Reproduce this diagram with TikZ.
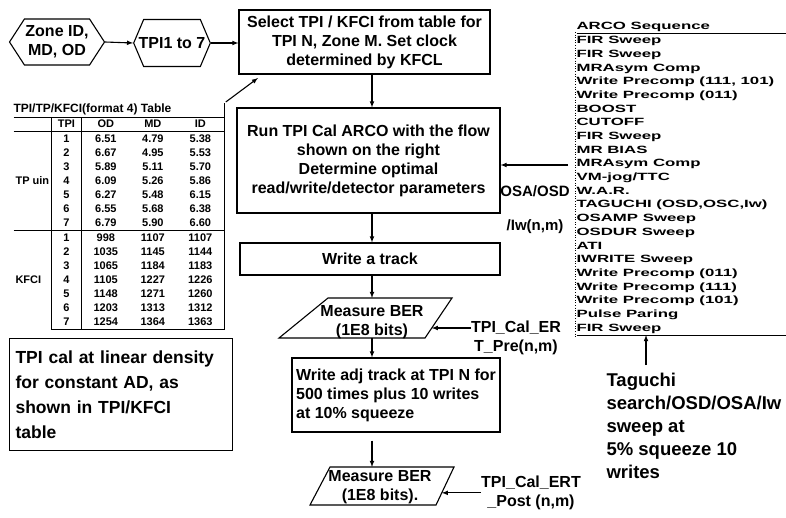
\documentclass[tikz,border=0pt]{standalone}
\usepackage{fontspec}
\setmainfont{Liberation Sans}
\newfontfamily\arcofont[FakeStretch=1.6]{Liberation Sans}
\usepackage{array}
\usetikzlibrary{calc,positioning,shapes.symbols}

\newcolumntype{C}[1]{>{\centering\arraybackslash}p{#1}}

\begin{document}
\begin{tikzpicture}[x=1pt, y=-1pt, line width=1.1pt, >=latex,
	flowbox/.style={draw, rectangle, inner sep=3pt, align=center, font=\fontsize{16}{19}\selectfont\bfseries},
	hexbox/.style={draw, signal, signal to=west and east, align=center, font=\fontsize{16}{19}\selectfont\bfseries},
	flowlabel/.style={inner sep=0pt, align=center, font=\fontsize{16}{19}\selectfont\bfseries},
	bigtext/.style={inner sep=0pt, align=left, font=\fontsize{18.5}{23}\selectfont\bfseries}]
	\useasboundingbox (0,0) rectangle (786,517);

	% inputs
	\node [hexbox, minimum height=46pt, inner xsep=1pt, signal pointer angle=114] (zone) at (57,42) {Zone ID,\\MD, OD};
	\node [hexbox, minimum height=47pt, inner xsep=-5pt, signal pointer angle=134] (tpi) at (172,43) {TPI1 to 7};

	% main flow
	\node [flowbox, minimum width=251pt, minimum height=64pt] (sel) at (364.5,42) {Select TPI / KFCI from table for\\TPI N, Zone M. Set clock\\determined by KFCL};
	\node [flowbox, minimum width=263pt, minimum height=105pt] (run) at (368.5,160.5) {Run TPI Cal ARCO with the flow\\shown on the right\\Determine optimal\\read/write/detector parameters};
	\node [flowbox, minimum width=260pt, minimum height=32pt] (wt) at (370,259) {Write a track};
	\node [flowbox, minimum width=208pt, minimum height=74pt, align=left] (adj) at (396,395) {Write adj track at TPI N for\\500 times plus 10 writes\\at 10\% squeeze};

	% measure BER
	\coordinate (b1a) at (328,298);
	\coordinate (b1b) at (452,298);
	\coordinate (b1c) at (425,338);
	\coordinate (b1d) at (279,338);
	\draw (b1a) -- (b1b) -- (b1c) -- (b1d) -- cycle;
	\node [flowlabel] (ber1) at (372,322) {Measure BER\\(1E8 bits)};
	\coordinate (b2a) at (330,467);
	\coordinate (b2b) at (454,467);
	\coordinate (b2c) at (436,505);
	\coordinate (b2d) at (310,505);
	\draw (b2a) -- (b2b) -- (b2c) -- (b2d) -- cycle;
	\node [flowlabel] (ber2) at (380,487) {Measure BER\\(1E8 bits).};

	\coordinate (spine) at (372,0);
	\draw [->] (zone.east) -- (tpi.west);
	\draw [->] (tpi.east) -- (tpi.east -| sel.west);
	\draw [->] (sel.south -| spine) -- (run.north -| spine);
	\draw [->] (run.south -| spine) -- (wt.north -| spine);
	\draw [->] (wt.south -| spine) -- (spine |- b1a);
	\draw [->] (spine |- b1d) -- (adj.north -| spine);
	\draw [->, shorten <=8pt] (adj.south -| spine) -- (spine |- b2a);

	% BER labels
	\node [flowlabel] (er) at (516,338) {TPI\_Cal\_ER\\T\_Pre(n,m)};
	\coordinate (b1r) at ($(b1b)!0.75!(b1c)$);
	\draw [->] (er.west |- b1r) -- (b1r);
	\node [flowlabel] (ert) at (531,493) {TPI\_Cal\_ERT\\\_Post (n,m)};
	\coordinate (b2r) at ($(b2b)!0.68!(b2c)$);
	\draw [->] (ert.west |- b2r) -- (b2r);

	% table
	\node [anchor=north west, inner sep=0pt, font=\fontsize{11}{12.5}\selectfont\bfseries] (tbl) at (13,102) {%
		\renewcommand{\arraystretch}{1.12}\setlength{\tabcolsep}{0pt}\setlength{\arrayrulewidth}{0.9pt}%
		\begin{tabular}{@{}p{37pt}|C{30pt}|C{47pt}C{47pt}C{48pt}|}
			\multicolumn{5}{@{}l|}{\fontsize{12}{12.5}\selectfont TPI/TP/KFCI(format 4) Table}\\ \hline
			& TPI & OD & MD & ID\\ \hline
			& 1 & 6.51 & 4.79 & 5.38\\
			& 2 & 6.67 & 4.95 & 5.53\\
			& 3 & 5.89 & 5.11 & 5.70\\
			\hspace{2pt}TP uin & 4 & 6.09 & 5.26 & 5.86\\
			& 5 & 6.27 & 5.48 & 6.15\\
			& 6 & 6.55 & 5.68 & 6.38\\
			& 7 & 6.79 & 5.90 & 6.60\\ \hline
			& 1 & 998 & 1107 & 1107\\
			& 2 & 1035 & 1145 & 1144\\
			& 3 & 1065 & 1184 & 1183\\
			\hspace{2pt}KFCI & 4 & 1105 & 1227 & 1226\\
			& 5 & 1148 & 1271 & 1260\\
			& 6 & 1203 & 1313 & 1312\\
			& 7 & 1254 & 1364 & 1363\\ \cline{2-5}
		\end{tabular}};
	\coordinate (selhit) at (258,78);
	\draw [->] (tbl.north east) -- (selhit);

	\node [draw, rectangle, anchor=north west, minimum height=112pt, inner xsep=6pt, text width=211pt, align=left, font=\fontsize{17.5}{25}\selectfont\bfseries] (cal) at (9,338) {TPI cal at linear density\\for constant AD, as\\shown in TPI/KFCI\\table};

	% ARCO sequence
	\node [anchor=north west, inner sep=0pt, font=\arcofont\fontsize{10.5}{11.4}\selectfont\bfseries] (arco) at (576,19) {%
		\renewcommand{\arraystretch}{1.2}\setlength{\arrayrulewidth}{1pt}%
		\begin{tabular}{@{}p{210pt}@{}}
			ARCO Sequence\\ \hline
			FIR Sweep\\
			FIR Sweep\\
			MRAsym Comp\\
			Write Precomp (111, 101)\\
			Write Precomp (011)\\
			BOOST\\
			CUTOFF\\
			FIR Sweep\\
			MR BIAS\\
			MRAsym Comp\\
			VM-jog/TTC\\
			W.A.R.\\
			TAGUCHI (OSD,OSC,Iw)\\
			OSAMP Sweep\\
			OSDUR Sweep\\
			ATI\\
			IWRITE Sweep\\
			Write Precomp (011)\\
			Write Precomp (111)\\
			Write Precomp (101)\\
			Pulse Paring\\
			FIR Sweep\\ \hline
		\end{tabular}};
	\draw [dotted, line width=0.6pt] ($(arco.north west)+(-1,13)$) -- ($(arco.south west)+(-1,0)$);

	\coordinate (arcoin) at (568,165);
	\draw [->] (arcoin) -- (arcoin -| run.east);
	\node [flowlabel, font=\fontsize{15}{34}\selectfont\bfseries] (osa) at (535,210) {OSA/OSD\\/Iw(n,m)};

	\node [bigtext, anchor=north west] (tag) at (606,373) {Taguchi\\search/OSD/OSA/Iw\\sweep at\\5\% squeeze 10\\writes};
	\coordinate (tagtip) at (646,335);
	\draw [->] ($(tagtip |- tag.north)+(0,-8)$) -- (tagtip);
\end{tikzpicture}
\end{document}
